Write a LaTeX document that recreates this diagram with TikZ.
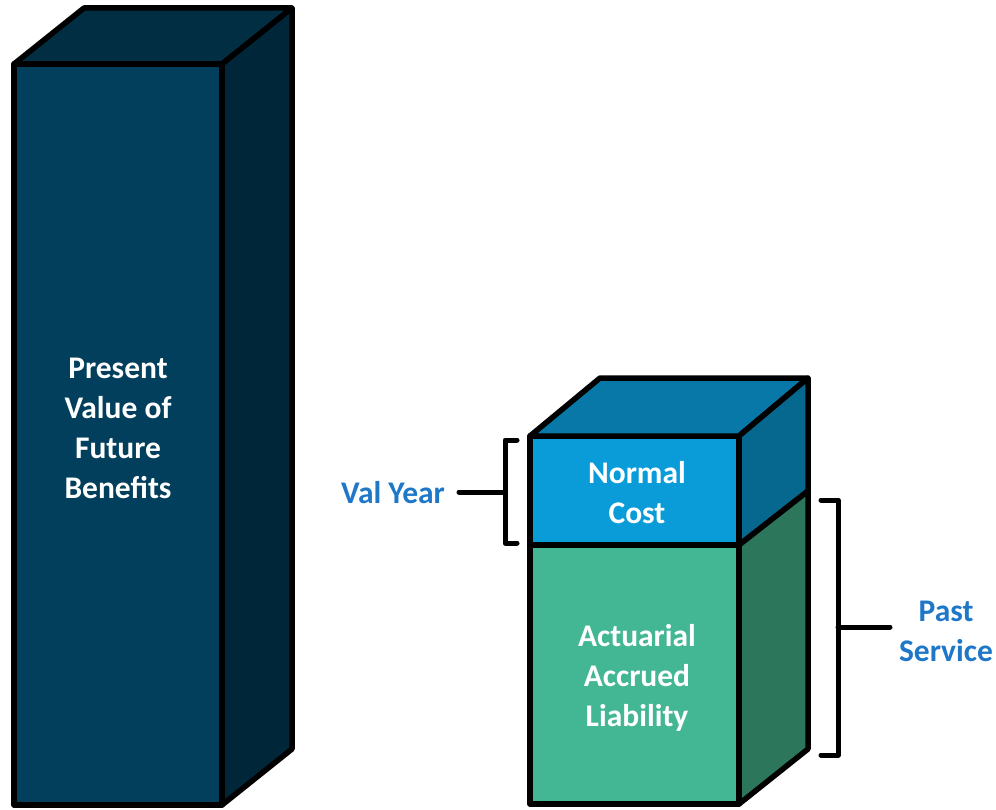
\documentclass[tikz,border=0pt]{standalone}
\usepackage{fontspec}
\setmainfont{Carlito}
\begin{document}
\begin{tikzpicture}[x=1pt,y=-1pt,
  edge/.style={draw=black,line width=5.5pt,line join=round,line cap=round},
  lbl/.style={font=\fontsize{31.5}{40}\selectfont\bfseries,align=center,text=white},
  blbl/.style={font=\fontsize{31.5}{40}\selectfont\bfseries,align=center,text=labelblue},
  brk/.style={draw=black,line width=5pt,line join=round,line cap=round}]
\definecolor{pvfront}{RGB}{1,63,92}
\definecolor{pvtop}{RGB}{1,46,66}
\definecolor{pvside}{RGB}{0,38,58}
\definecolor{ncfront}{RGB}{10,156,216}
\definecolor{nctop}{RGB}{8,120,168}
\definecolor{ncside}{RGB}{6,104,142}
\definecolor{alfront}{RGB}{67,183,148}
\definecolor{alside}{RGB}{44,118,92}
\definecolor{labelblue}{RGB}{31,119,200}
\useasboundingbox (0,0) rectangle (996,810);
% tall box
\path[edge,fill=pvfront] (14,64) rectangle (222,805);
\path[edge,fill=pvtop] (14,64) -- (84,8) -- (292,8) -- (222,64) -- cycle;
\path[edge,fill=pvside] (222,64) -- (292,8) -- (292,749) -- (222,805) -- cycle;
\node[lbl] (pvfb) at (118,428) {Present\\Value of\\Future\\Benefits};
% right box
\path[edge,fill=alfront] (530,545) rectangle (739,804);
\path[edge,fill=ncfront] (530,436) rectangle (739,545);
\path[edge,fill=nctop] (530,436) -- (600,378) -- (808,378) -- (739,436) -- cycle;
\path[edge,fill=ncside] (739,436) -- (808,378) -- (808,491) -- (739,545) -- cycle;
\path[edge,fill=alside] (739,545) -- (808,491) -- (808,749) -- (739,804) -- cycle;
\node[lbl] (nc) at (637,493) {Normal\\Cost};
\node[lbl] (aal) at (637,678) {Actuarial\\Accrued\\Liability};
% val year bracket
\node[blbl] (vy) at (393,493) {Val Year};
\coordinate (vyb) at (505,492);
\coordinate (vys) at (459,492);
\draw[brk] (517,440) -- (505,440) -- (505,543) -- (517,543);
\draw[brk] (vys) -- (vyb);
% past service bracket
\node[blbl] (ps) at (946,631) {Past\\Service};
\coordinate (psb) at (838,627);
\coordinate (pss) at (890,627);
\draw[brk] (821,500) -- (838,500) -- (838,755) -- (821,755);
\draw[brk] (psb) -- (pss);
\end{tikzpicture}
\end{document}
